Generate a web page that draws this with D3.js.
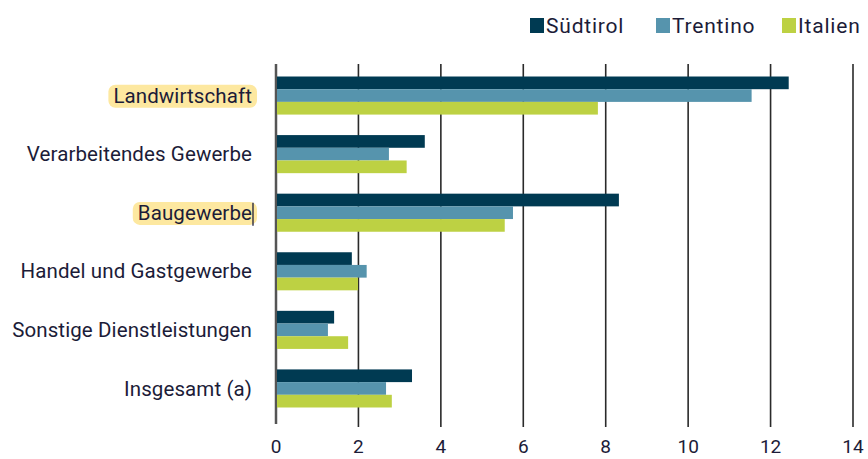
<!DOCTYPE html>
<html>
<head>
<meta charset="utf-8">
<script src="https://cdn.jsdelivr.net/npm/d3@7"></script>
<style>
  body { margin: 0; background: #fff; }
  svg text { font-family: Roboto, "Open Sans", sans-serif; fill: #1c1c38; }
</style>
</head>
<body>
<div class="chart"></div>
<script>
  var categories = ["Landwirtschaft", "Verarbeitendes Gewerbe", "Baugewerbe", "Handel und Gastgewerbe", "Sonstige Dienstleistungen", "Insgesamt (a)"];
  var series = ["Südtirol", "Trentino", "Italien"];
  var suedtirol = [12.44, 3.61, 8.32, 1.84, 1.41, 3.3];
  var trentino = [11.54, 2.74, 5.75, 2.2, 1.26, 2.67];
  var italien = [7.81, 3.17, 5.55, 1.99, 1.75, 2.81];
  var xTicks = [0, 2, 4, 6, 8, 10, 12, 14];
  var highlighted = ["Landwirtschaft", "Baugewerbe"];

  var width = 868, height = 459;
  var colors = ["#003a52", "#5694ad", "#bdd143"];
  var values = [suedtirol, trentino, italien];

  var svg = d3.select(".chart").append("svg")
    .attr("width", width)
    .attr("height", height);

  var x = d3.scaleLinear().domain([0, 14]).range([276, 853]);
  var y = d3.scaleBand().domain(categories).range([56, 428]).padding(0.35);
  var y1 = d3.scaleBand().domain(series).range([0, y.bandwidth()]);

  // gridlines
  svg.append("g")
    .selectAll("line")
    .data(xTicks)
    .enter().append("line")
    .attr("x1", function(d) { return x(d); })
    .attr("x2", function(d) { return x(d); })
    .attr("y1", 64)
    .attr("y2", function(d) { return d === 0 ? 424 : 427; })
    .style("stroke", function(d) { return d === 0 ? "#555" : "#2a2a2a"; })
    .style("stroke-width", function(d) { return d === 0 ? 2.5 : 1.6; });

  // bars
  var groups = svg.append("g")
    .selectAll("g")
    .data(categories)
    .enter().append("g")
    .attr("transform", function(d) { return "translate(0," + y(d) + ")"; });

  groups.selectAll("rect")
    .data(function(d, i) { return series.map(function(s, j) { return { s: s, v: values[j][i], c: colors[j] }; }); })
    .enter().append("rect")
    .attr("x", x(0) + 1)
    .attr("y", function(d) { return y1(d.s); })
    .attr("width", function(d) { return x(d.v) - x(0) - 1; })
    .attr("height", y1.bandwidth())
    .style("fill", function(d) { return d.c; });

  // category labels
  var labels = svg.append("g")
    .selectAll("g")
    .data(categories)
    .enter().append("g")
    .attr("transform", function(d) { return "translate(252," + (y(d) + y.bandwidth() / 2) + ")"; });

  labels.each(function(d) {
    var g = d3.select(this);
    var t = g.append("text")
      .attr("text-anchor", "end")
      .attr("dy", "0.35em")
      .style("font-size", "20.5px")
      .style("letter-spacing", "0.1px")
      .text(d);
    if (highlighted.indexOf(d) >= 0) {
      var bb = t.node().getBBox();
      g.insert("rect", "text")
        .attr("x", bb.x - 5)
        .attr("y", bb.y + 1)
        .attr("width", bb.width + 10)
        .attr("height", bb.height - 1)
        .attr("rx", 7)
        .style("fill", "#fde8a0");
    }
  });

  // text cursor after Baugewerbe
  svg.append("line")
    .attr("x1", 253).attr("x2", 253)
    .attr("y1", y("Baugewerbe") + 9).attr("y2", y("Baugewerbe") + 32)
    .style("stroke", "#1c1c38").style("stroke-width", 1.3);

  // x labels
  svg.append("g")
    .selectAll("text")
    .data(xTicks)
    .enter().append("text")
    .attr("x", function(d) { return x(d); })
    .attr("y", 453)
    .attr("text-anchor", "middle")
    .style("font-size", "19px")
    .text(function(d) { return d; });

  // legend
  var legendX = [530, 656, 782];
  var legend = svg.append("g")
    .selectAll("g")
    .data(series)
    .enter().append("g")
    .attr("transform", function(d, i) { return "translate(" + legendX[i] + ",18)"; });

  legend.append("rect")
    .attr("width", 14).attr("height", 15)
    .style("fill", function(d, i) { return colors[i]; });

  legend.append("text")
    .attr("x", 16).attr("y", 8)
    .attr("dy", "0.35em")
    .style("font-size", "21px")
    .style("letter-spacing", "0.8px")
    .text(function(d) { return d; });
</script>
</body>
</html>
